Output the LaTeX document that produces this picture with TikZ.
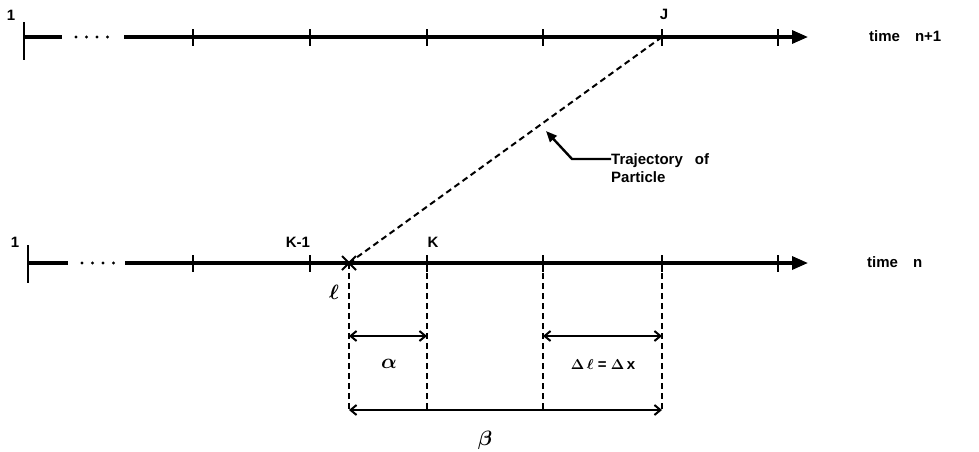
\documentclass[tikz,border=0pt]{standalone}
\usepackage{amsmath}
\usepackage{fontspec}
\setmainfont{Liberation Sans}
\usetikzlibrary{arrows.meta}
\begin{document}
\begin{tikzpicture}[x=1pt,y=-1pt,
  axis/.style={line width=3.2pt},
  tk/.style={line width=1.4pt},
  dsh/.style={line width=2pt,dash pattern=on 6pt off 4pt},
  dim/.style={line width=2pt,{Straight Barb[length=6pt,width=10pt,line width=2pt]}-{Straight Barb[length=6pt,width=10pt,line width=2pt]}},
  lbl/.style={font=\bfseries\fontsize{15}{18}\selectfont,inner sep=1pt},
  big/.style={font=\fontsize{20}{22}\selectfont,inner sep=1pt},
  dots/.style={line width=3.4pt,dash pattern=on 0pt off 10.5pt,line cap=round}]
\useasboundingbox (0,0) rectangle (979,451);
% ---------- top axis ----------
\coordinate (t0) at (24,37);
\coordinate (t0a) at (62,37);
\coordinate (t1) at (124,37);
\coordinate (tend) at (808,37);
\draw[line width=2.6pt] (24,22) -- (24,60);
\draw[axis] (t0) -- (t0a);
\draw[dots] (76,37) -- (108,37);
\draw[axis,-{Triangle[length=16pt,width=13pt]}] (t1) -- (tend);
\foreach \x/\n in {193/ta,310/tb,427/tc,543/td,662/te,778/tf}{
  \coordinate (\n) at (\x,37);
  \draw[tk] (\x,29) -- (\x,46);
}
\node[lbl] (one1) at (11,15) {1};
\node[lbl] (J) at (664,14) {J};
\node[lbl,anchor=west] (tn1) at (868,36) {time\hspace{1.0em}n+1};
% ---------- bottom axis ----------
\coordinate (b0) at (28,263);
\coordinate (b0a) at (68,263);
\coordinate (b1) at (125,263);
\coordinate (bend) at (808,263);
\draw[line width=2.6pt] (28,245) -- (28,283);
\draw[axis] (b0) -- (b0a);
\draw[dots] (82,263) -- (114,263);
\draw[axis,-{Triangle[length=16pt,width=13pt]}] (b1) -- (bend);
\foreach \x/\n in {193/ba,310/bb,427/bc,543/bd,662/be,778/bf}{
  \coordinate (\n) at (\x,263);
  \draw[tk] (\x,255) -- (\x,272);
}
\node[lbl] (one2) at (15,242) {1};
\node[lbl] (km1) at (298,242) {K-1};
\node[lbl] (K) at (433,242) {K};
\node[lbl,anchor=west] (tn) at (866,262) {time\hspace{1.0em}n};
\node[big] (ell) at (334,292) {$\boldsymbol{\ell}$};
% particle position
\coordinate (p) at (349,263);
\draw[line width=2pt] (342,256) -- (356,270) (342,270) -- (356,256);
% trajectory
\draw[dsh] (p) -- (te);
% annotation
\node[lbl,anchor=west,align=left] (traj) at (610,168) {Trajectory\hspace{0.8em}of\\Particle};
\coordinate (a1) at (572,159);
\coordinate (a2) at (546,131);
\draw[line width=2.4pt,-{Triangle[length=11pt,width=9pt]}] (611,159) -- (a1) -- (a2);
% verticals
\foreach \x/\n in {349/va,427/vb,543/vc,662/vd}{
  \coordinate (\n) at (\x,410);
  \draw[dsh] (\x,263) -- (\n);
}
% dimensions
\coordinate (al1) at (349,336);
\coordinate (al2) at (427,336);
\draw[dim] (al1) -- (al2);
\node[big] (alpha) at (389,364) {$\boldsymbol{\alpha}$};
\coordinate (dl1) at (543,336);
\coordinate (dl2) at (662,336);
\draw[dim] (dl1) -- (dl2);
\node[lbl] (dx) at (603,364) {$\boldsymbol{\Delta}$\,$\boldsymbol{\ell}$ = $\boldsymbol{\Delta}$\,x};
\coordinate (be1) at (349,410);
\coordinate (be2) at (662,410);
\draw[dim] (be1) -- (be2);
\node[big] (beta) at (485,440) {$\boldsymbol{\beta}$};
\end{tikzpicture}
\end{document}
